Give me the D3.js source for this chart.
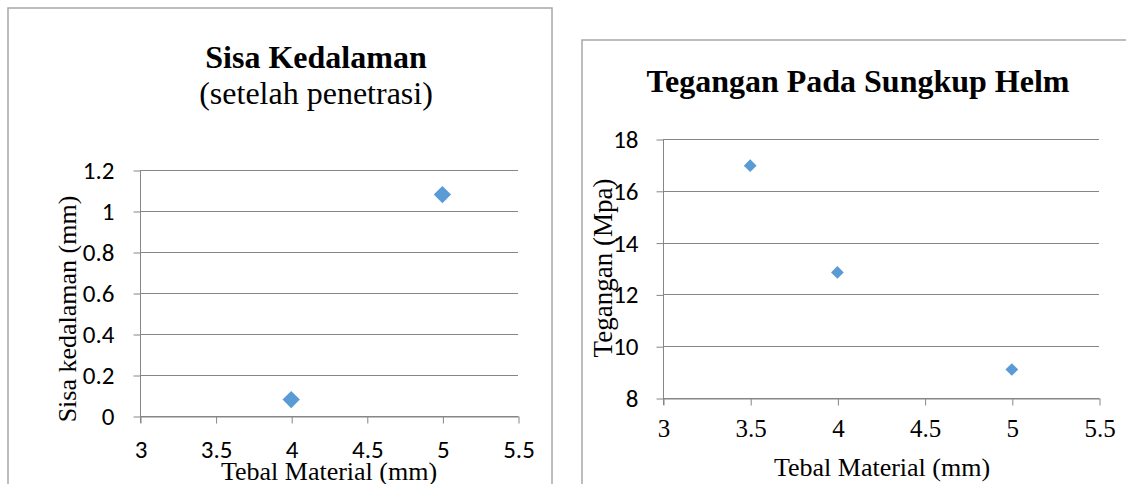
<!DOCTYPE html>
<html>
<head>
<meta charset="utf-8">
<script src="https://cdn.jsdelivr.net/npm/d3@7"></script>
<style>
  body { margin: 0; background: #fff; }
  .tick-sans { font-family: Carlito, Calibri, Lato, sans-serif; font-size: 25px; fill: #000; }
  .tick-serif { font-family: "Liberation Serif", "Times New Roman", serif; font-size: 25px; fill: #000; }
  .title { font-family: "Liberation Serif", "Times New Roman", serif; font-weight: bold; font-size: 32px; }
  .subtitle { font-family: "Liberation Serif", "Times New Roman", serif; font-size: 32px; }
  .axis-text { font-family: "Liberation Serif", "Times New Roman", serif; font-size: 26px; }
</style>
</head>
<body>
<div id="plot"></div>
<script>
// Define SVG area dimensions
var svgWidth = 1126;
var svgHeight = 484;

// Chart 1 data: Sisa Kedalaman
var leftThickness = [4, 5];
var leftDepth = [0.08, 1.08];
var leftXTicks = [3, 3.5, 4, 4.5, 5, 5.5];
var leftYTicks = [0, 0.2, 0.4, 0.6, 0.8, 1, 1.2];

// Chart 2 data: Tegangan Pada Sungkup Helm
var rightThickness = [3.5, 4, 5];
var rightStress = [16.97, 12.85, 9.1];
var rightXTicks = [3, 3.5, 4, 4.5, 5, 5.5];
var rightYTicks = [8, 10, 12, 14, 16, 18];

var svg = d3.select("#plot")
    .append("svg")
    .attr("width", svgWidth)
    .attr("height", svgHeight);

var gridColor = "#868686";
var markerColor = "#5b9bd5";

// Draws one scatter chart with its frame, grid, axes and labels
function drawChart(cfg) {
    var g = svg.append("g");

    // Chart frame
    g.append("rect")
        .attr("x", cfg.frame[0])
        .attr("y", cfg.frame[1])
        .attr("width", cfg.frame[2])
        .attr("height", cfg.frame[3])
        .attr("fill", "none")
        .attr("stroke", "#a8a8a8")
        .attr("stroke-width", 1.5);

    var xScale = d3.scaleLinear().domain(cfg.xDomain).range(cfg.xRange);
    var yScale = d3.scaleLinear().domain(cfg.yDomain).range(cfg.yRange);

    // Horizontal gridlines
    g.selectAll(".grid")
        .data(cfg.yTicks)
        .enter()
        .append("line")
        .attr("x1", cfg.xRange[0])
        .attr("x2", cfg.xRange[1])
        .attr("y1", d => Math.round(yScale(d)) + 0.5)
        .attr("y2", d => Math.round(yScale(d)) + 0.5)
        .attr("stroke", gridColor)
        .attr("stroke-width", 1);

    // y axis
    var leftAxis = d3.axisLeft(yScale)
        .tickValues(cfg.yTicks)
        .tickFormat(d3.format("~g"))
        .tickSizeInner(7)
        .tickSizeOuter(0)
        .tickPadding(cfg.yPad);
    var yAxis = g.append("g")
        .attr("transform", `translate(${cfg.xRange[0] + 0.5}, 0.5)`)
        .call(leftAxis);
    yAxis.select(".domain").remove();
    yAxis.selectAll(".tick line").attr("stroke", gridColor);
    yAxis.selectAll("text").attr("class", "tick-sans");

    // x axis
    var bottomAxis = d3.axisBottom(xScale)
        .tickValues(cfg.xTicks)
        .tickFormat(d3.format("~g"))
        .tickSizeInner(7)
        .tickSizeOuter(0)
        .tickPadding(cfg.xPad);
    var xAxis = g.append("g")
        .attr("transform", `translate(0.5, ${cfg.yRange[0] + 0.5})`)
        .call(bottomAxis);
    xAxis.select(".domain").attr("stroke", gridColor);
    xAxis.selectAll(".tick line").attr("stroke", gridColor);
    xAxis.selectAll("text").attr("class", cfg.xTickClass);

    // vertical axis line
    g.append("line")
        .attr("x1", cfg.xRange[0] + 0.5)
        .attr("x2", cfg.xRange[0] + 0.5)
        .attr("y1", cfg.yRange[1])
        .attr("y2", cfg.yRange[0] + 7)
        .attr("stroke", gridColor);

    // markers
    g.selectAll(".pt")
        .data(cfg.xs.map((x, i) => [x, cfg.ys[i]]))
        .enter()
        .append("path")
        .attr("d", d3.symbol().type(d3.symbolSquare).size(cfg.markerSize))
        .attr("transform", d => `translate(${xScale(d[0])}, ${yScale(d[1])}) rotate(45)`)
        .attr("fill", markerColor);

    // titles
    cfg.titles.forEach(function (t) {
        g.append("text")
            .attr("class", t.cls)
            .attr("x", t.x)
            .attr("y", t.y)
            .attr("text-anchor", "middle")
            .text(t.text);
    });

    // x axis label
    g.append("text")
        .attr("class", "axis-text")
        .attr("x", cfg.xLabel.x)
        .attr("y", cfg.xLabel.y)
        .attr("text-anchor", "middle")
        .text(cfg.xLabel.text);

    // y axis label
    g.append("text")
        .attr("class", "axis-text")
        .style("font-size", cfg.yLabel.size + "px")
        .attr("transform", `translate(${cfg.yLabel.x}, ${cfg.yLabel.y}) rotate(-90)`)
        .attr("text-anchor", "middle")
        .text(cfg.yLabel.text);
}

drawChart({
    frame: [8, 8, 544, 500],
    xDomain: [3, 5.5], xRange: [140, 518],
    yDomain: [0, 1.2], yRange: [416, 170],
    xTicks: leftXTicks, yTicks: leftYTicks,
    xs: leftThickness, ys: leftDepth,
    markerSize: 150,
    yPad: 19, xPad: 17,
    xTickClass: "tick-sans",
    titles: [
        { text: "Sisa Kedalaman", x: 316, y: 68, cls: "title" },
        { text: "(setelah penetrasi)", x: 316, y: 104, cls: "subtitle" }
    ],
    xLabel: { text: "Tebal Material (mm)", x: 329, y: 480 },
    yLabel: { text: "Sisa kedalaman (mm)", x: 76, y: 309, size: 26 }
});

drawChart({
    frame: [582, 40, 560, 480],
    xDomain: [3, 5.5], xRange: [663, 1099],
    yDomain: [8, 18], yRange: [398, 139],
    xTicks: rightXTicks, yTicks: rightYTicks,
    xs: rightThickness, ys: rightStress,
    markerSize: 81,
    yPad: 18, xPad: 14,
    xTickClass: "tick-serif",
    titles: [
        { text: "Tegangan Pada Sungkup Helm", x: 858, y: 92, cls: "title" }
    ],
    xLabel: { text: "Tebal Material (mm)", x: 882, y: 476 },
    yLabel: { text: "Tegangan (Mpa)", x: 612, y: 268, size: 27 }
});
</script>
</body>
</html>
